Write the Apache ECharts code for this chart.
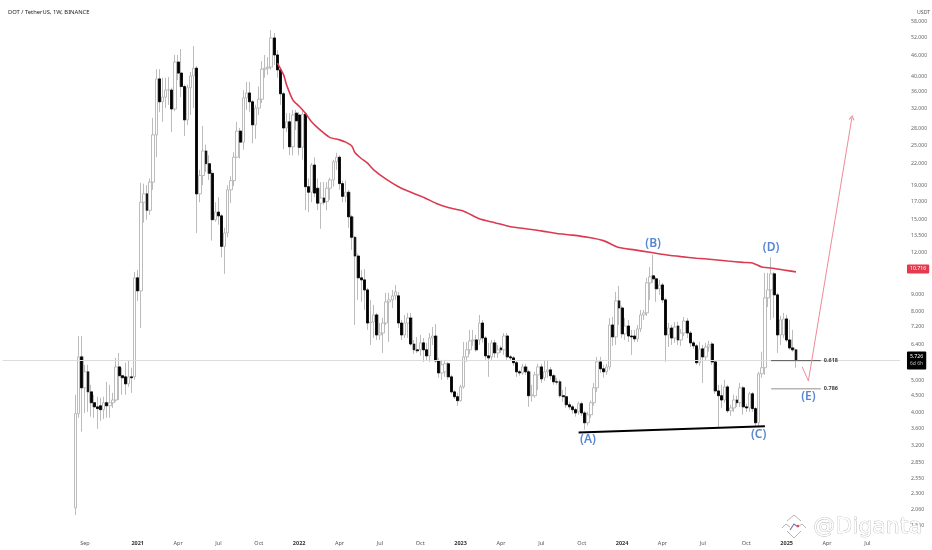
<!DOCTYPE html>
<html><head><meta charset="utf-8">
<style>html,body{margin:0;padding:0;background:#fff}#c{width:932px;height:550px}</style>
<script src="https://cdn.jsdelivr.net/npm/echarts@6/dist/echarts.min.js"></script>
</head><body><div id="c"></div>
<script>
const opens=[2.09,3.98,5.87,4.75,5.30,4.62,4.29,4.17,4.20,4.09,
4.29,4.20,4.29,4.37,5.48,5.16,5.12,4.88,5.12,5.12,
10.08,9.22,16.9,17.9,16.0,19.4,26.8,39.3,33.6,34.7,
36.4,36.4,32.0,44.1,40.9,37.3,29.7,37.0,40.1,42.3,
17.9,20.3,24.0,22.0,20.6,15.0,15.8,15.4,12.5,13.7,
18.4,19.6,23.0,27.5,25.5,34.5,35.7,33.6,28.7,32.2,
34.2,42.0,42.3,42.6,52.0,46.3,41.8,35.5,28.1,29.3,
24.7,31.1,30.7,24.6,30.9,18.8,18.1,21.8,18.6,16.8,
17.4,17.0,18.6,19.7,22.3,23.0,19.2,17.6,18.1,15.3,
13.3,11.7,10.08,9.94,9.28,7.40,7.45,7.82,6.82,6.91,
7.40,8.55,8.67,8.91,8.91,7.40,6.82,7.40,7.66,6.41,
6.16,6.16,6.46,6.16,5.91,6.68,6.77,5.71,5.26,5.30,
5.60,5.12,4.62,4.47,4.35,4.78,5.87,6.16,6.55,6.59,
6.59,7.40,6.68,5.91,5.87,6.46,6.03,6.24,6.16,6.77,
5.87,5.83,5.64,5.30,5.26,5.48,5.30,4.50,4.50,5.19,
5.48,5.09,5.30,5.37,5.16,4.95,4.95,4.50,4.47,4.23,
4.17,4.09,4.03,4.26,4.00,3.74,3.95,4.29,4.75,5.67,
5.41,5.30,5.48,7.30,6.73,8.61,8.20,6.87,7.25,6.77,
6.77,6.64,7.11,7.82,7.93,9.74,10.22,10.01,9.35,9.60,
8.67,6.82,7.15,6.68,7.25,6.59,6.91,7.50,6.91,6.46,
6.33,5.64,6.20,5.87,6.28,6.41,5.67,4.65,4.50,4.37,
4.78,4.06,4.14,4.37,4.29,4.75,4.17,4.14,4.56,4.12,
3.74,5.23,5.45,8.79,9.28,10.36,8.97,6.82,6.82,7.61,
6.59,6.24,6.16];
const closes=[3.98,5.87,4.75,5.30,4.62,4.29,4.17,4.12,4.09,4.29,
4.20,4.29,4.37,5.48,5.16,5.09,4.88,5.12,5.09,10.08,
9.22,16.9,17.9,16.0,19.4,26.8,39.3,33.6,34.7,36.4,
36.5,32.0,44.1,40.9,37.3,29.7,37.0,40.1,42.3,17.9,
20.3,24.0,22.0,20.6,15.0,15.8,15.4,12.5,13.7,18.4,
19.6,23.0,27.5,25.5,34.5,35.7,33.6,28.7,32.2,34.2,
42.0,42.3,42.6,52.0,46.3,41.8,35.5,28.1,29.3,24.7,
30.7,29.5,24.6,30.9,18.8,18.1,21.8,18.0,16.8,17.4,
16.9,18.6,19.7,22.3,23.0,19.2,17.6,18.1,15.3,13.3,
11.7,10.08,9.94,9.28,7.40,7.45,7.82,6.82,6.91,7.40,
8.55,8.67,8.91,9.16,7.40,6.82,7.40,7.66,6.41,6.16,
6.12,6.46,6.16,5.91,6.68,6.77,5.71,5.26,5.56,5.60,
5.12,4.62,4.47,4.35,4.78,5.87,6.16,6.55,6.59,6.16,
7.40,6.68,5.91,5.83,6.46,6.03,6.16,6.16,6.77,5.87,
5.83,5.64,5.30,5.26,5.48,5.30,4.50,4.53,5.19,5.48,
5.05,5.30,5.37,5.16,4.95,4.94,4.50,4.47,4.23,4.17,
4.09,4.00,4.26,4.00,3.74,3.95,4.29,4.75,5.67,5.41,
5.30,5.48,7.30,6.73,8.61,8.20,6.87,7.25,6.77,6.73,
6.64,7.11,7.82,7.93,9.74,10.15,10.01,9.35,9.60,8.67,
6.82,7.15,6.68,7.20,6.59,6.91,7.50,6.91,6.46,6.33,
5.64,6.20,5.87,6.28,6.37,5.67,4.65,4.50,4.37,4.78,
4.06,4.14,4.37,4.29,4.75,4.17,4.14,4.56,4.12,3.74,
5.23,5.45,8.79,9.28,10.36,8.97,6.82,7.56,7.61,6.59,
6.24,6.16,5.73];
const highs=[4.53,6.77,6.77,5.56,5.56,4.85,4.53,4.47,4.44,4.47,
4.95,4.85,4.59,5.83,6.03,5.45,5.64,5.71,5.45,10.5,
10.64,19.3,19.2,19.0,19.9,30.1,42.0,42.0,39.6,39.6,
39.8,37.0,46.3,46.3,48.2,37.8,37.8,41.2,49.2,42.9,
21.1,28.5,25.1,23.3,21.1,16.9,17.5,15.6,14.2,19.0,
20.2,23.8,29.3,28.1,36.4,38.5,38.5,34.0,32.9,37.3,
44.4,46.3,45.6,54.9,53.8,47.9,42.3,36.0,31.1,31.1,
31.8,31.8,31.3,31.8,31.3,19.9,22.1,23.0,19.9,19.4,
19.4,19.4,20.0,22.6,23.7,23.3,19.6,19.6,18.4,15.5,
13.4,11.9,10.64,10.7,9.41,8.67,8.38,7.93,7.40,7.66,
9.10,9.10,9.28,9.60,9.16,7.56,7.82,7.93,7.93,6.59,
6.73,6.82,6.68,6.46,6.91,7.20,7.35,5.83,5.75,5.75,
5.67,5.19,4.68,4.59,4.85,6.50,6.50,7.06,7.06,6.82,
7.82,7.56,6.77,6.46,6.59,6.59,6.37,6.33,6.91,6.91,
5.95,5.91,5.71,5.37,5.60,5.60,5.37,4.85,5.30,5.60,
5.60,5.71,5.71,5.48,5.23,5.09,5.02,4.68,4.78,4.32,
4.23,4.14,4.32,4.32,4.06,4.03,4.35,4.91,5.87,5.87,
5.56,5.60,7.66,7.71,9.16,9.54,8.32,7.66,7.56,7.06,
7.06,7.30,8.09,8.09,10.08,10.85,11.8,10.15,9.94,9.74,
8.79,7.40,7.30,7.45,7.45,7.11,7.71,7.66,7.01,6.55,
6.41,6.50,6.37,6.46,6.55,6.50,5.75,4.85,4.85,5.02,
4.85,4.23,4.53,4.50,4.91,4.81,4.26,4.62,4.62,4.17,
5.30,6.08,10.43,10.43,11.6,10.5,9.10,7.77,7.93,7.82,
7.56,7.06,6.20];
const lows=[1.99,3.87,3.52,4.00,4.03,3.90,3.87,3.59,3.79,3.84,
3.87,3.87,4.14,4.32,4.37,4.53,4.53,4.78,4.59,5.02,
8.61,7.15,14.7,15.0,15.5,18.4,23.0,31.3,29.3,32.2,
32.9,27.3,31.5,39.0,34.7,26.6,28.7,30.7,32.2,13.7,
16.9,19.0,20.8,19.7,13.0,14.8,14.5,11.6,10.36,13.3,
16.8,18.9,22.9,22.8,24.2,31.8,31.3,25.3,26.1,30.7,
33.3,39.6,40.4,41.8,43.2,39.6,32.9,24.3,27.3,23.3,
23.3,27.7,23.3,22.6,16.0,15.8,16.9,17.5,16.0,14.1,
16.6,16.0,17.2,18.8,21.1,18.4,16.9,16.9,14.2,12.2,
7.30,8.67,8.55,8.09,7.06,6.37,6.68,6.59,6.59,6.03,
7.30,6.50,8.20,8.67,7.15,6.59,6.68,6.68,6.33,5.99,
6.03,5.91,5.67,5.75,5.67,6.37,5.64,5.09,5.02,5.12,
5.02,4.56,4.40,4.20,4.32,4.72,5.67,5.99,6.33,6.08,
6.37,6.46,5.75,5.12,5.75,5.83,5.83,6.03,5.95,5.75,
5.71,5.52,5.12,5.16,5.19,5.19,4.17,4.32,4.44,4.68,
4.91,4.98,5.09,5.02,4.85,4.85,4.44,4.32,4.14,4.09,
3.98,3.90,3.95,3.92,3.57,3.67,3.87,4.20,4.62,5.26,
5.09,5.19,5.37,6.33,6.37,7.30,6.68,6.59,6.50,5.95,
6.50,6.50,6.96,7.56,7.77,8.67,9.74,8.55,8.97,8.49,
5.67,6.28,6.37,6.46,6.37,6.33,6.77,6.68,6.28,6.20,
5.56,5.52,4.91,5.75,6.08,5.56,4.56,3.62,4.14,4.29,
4.00,3.92,4.03,4.17,4.17,3.95,4.03,4.03,4.03,3.64,
3.64,5.09,5.19,8.26,7.56,7.66,6.03,6.37,6.68,6.50,
6.16,6.08,5.45];

// 200-week average, read at the candle numbers in maWeeks
const maWeeks=[65,67,68,70,72,74,76,78,80,82,85,87,89,90,92,94,96,100,104,108,112,116,120,125,130,135,140,145,150,155,160,165,170,175,180,185,190,195,200,205,210,215,218,221,224,228,232];
const maValues=[43.8,40.4,37.6,34.0,32.6,31.1,29.3,28.1,27.1,26.3,25.9,25.5,24.8,23.7,22.8,22.1,21.1,19.8,18.8,18.1,17.5,16.8,16.3,15.9,15.1,14.7,14.3,14.1,13.9,13.65,13.5,13.3,13.0,12.4,12.2,12.0,11.8,11.65,11.53,11.43,11.31,11.2,11.16,10.85,10.78,10.64,10.5];

const priceTicks=['58.000','52.000','46.000','40.000','36.000','32.000','28.000','25.000','22.000','19.000','17.000','15.000','13.500','12.000','9.000','8.000','7.200','6.400','5.000','4.500','4.000','3.600','3.200','2.850','2.550','2.300','2.060','1.850'];
const timeTickDates=['2020-09-07','2021-01-04','2021-04-05','2021-07-05','2021-10-04','2022-01-03','2022-04-04','2022-07-04','2022-10-03','2023-01-02','2023-04-03','2023-07-03','2023-10-02','2024-01-01','2024-04-01','2024-07-01','2024-10-07','2025-01-06','2025-04-07','2025-07-07'];
const timeTickLabels=['Sep','2021','Apr','Jul','Oct','2022','Apr','Jul','Oct','2023','Apr','Jul','Oct','2024','Apr','Jul','Oct','2025','Apr','Jul'];

const lastPrice=5.726, maLast=10.716;
const fib618=5.72, fib786=4.72;
const supportWeeks=[162,222], supportValues=[3.50,3.65];
const pathWeeks=[234,236,250], pathValues=[5.48,4.98,30.1];
const waveNames=['(A)','(B)','(C)','(D)','(E)'];
const waveWeeks=[165,186,220,224,236];
const waveValues=[3.33,12.7,3.44,12.37,4.47];

// weekly categories: 23 empty weeks before the first candle, then on into the future
const leadWeeks=23, totalWeeks=289;
const categories=[];
for(let k=0;k<totalWeeks;k++){
  const d=new Date(Date.UTC(2020,7,17)+(k-leadWeeks)*7*864e5);
  categories.push(d.toISOString().slice(0,10));
}
const cat=w=>categories[w+leadWeeks];

const candleData=categories.map((c,k)=>{const i=k-leadWeeks;return (i>=0&&i<opens.length)?[opens[i],closes[i],lows[i],highs[i]]:'-';});
const blackData=categories.map((c,k)=>{const i=k-leadWeeks;return (i>=0&&i<opens.length&&closes[i]<opens[i])?[opens[i],closes[i],closes[i],opens[i]]:'-';});

const font='"Noto Sans",sans-serif';
const chart=echarts.init(document.getElementById('c'),null,{renderer:'canvas'});
const flat=(weeks,vals)=>weeks.map((w,i)=>[cat(w),vals[i]]);
const fibLine=(v,color,w,label)=>({type:'line',z:6,silent:true,symbol:'none',
  data:[[cat(224),v],[cat(240),v]],lineStyle:{color:color,width:w},
  endLabel:{show:true,formatter:label,color:'#444',fontSize:5.5,fontWeight:'bold',fontFamily:font,distance:3}});

chart.setOption({
  animation:false,backgroundColor:'#fff',
  title:[
    {text:'DOT / TetherUS, 1W, BINANCE',left:3,top:4,textStyle:{fontSize:5.8,fontWeight:'normal',color:'#222',fontFamily:font}},
    {text:'USDT',left:912,top:5,textStyle:{fontSize:5.2,fontWeight:'normal',color:'#555',fontFamily:font}}
  ],
  grid:{left:2.63,width:897.35,top:0,height:530,containLabel:false},
  xAxis:{type:'category',data:categories,boundaryGap:true,
    axisLine:{show:false},axisTick:{show:false},splitLine:{show:false},
    axisLabel:{margin:10,fontSize:5.5,color:'#555',fontFamily:font,hideOverlap:false,
      interval:(i,v)=>timeTickDates.includes(v),
      formatter:v=>{const t=timeTickLabels[timeTickDates.indexOf(v)];return /^20/.test(t)?'{y|'+t+'}':t;},
      rich:{y:{fontSize:5.5,fontWeight:'bold',color:'#333',fontFamily:font}}}},
  yAxis:{type:'log',position:'right',min:1.796,max:67.42,
    axisLine:{show:false},axisTick:{show:false},splitLine:{show:false},minorTick:{show:false},minorSplitLine:{show:false},
    axisLabel:{margin:11,fontSize:5.2,color:'#666',fontFamily:font,align:'left',
      customValues:priceTicks.map(Number),
      formatter:v=>Number(v).toFixed(3)}},
  series:[
    {type:'candlestick',name:'wicks',z:2,barWidth:3,silent:true,data:candleData,
      itemStyle:{color:'#ffffff',color0:'#ffffff',borderColor:'#b4b4b4',borderColor0:'#b4b4b4',borderColorDoji:'#b4b4b4',borderWidth:0.9}},
    {type:'candlestick',name:'bodies',z:3,barWidth:2.4,silent:true,data:blackData,
      itemStyle:{color:'#000',color0:'#000',borderColor:'#000',borderColor0:'#000',borderColorDoji:'#000',borderWidth:0.8}},
    {type:'line',name:'MA',z:5,silent:true,symbol:'none',smooth:0.2,data:flat(maWeeks,maValues),
      lineStyle:{color:'#dc3a50',width:1.6},
      markLine:{silent:true,symbol:'none',animation:false,precision:3,data:[
        {yAxis:maLast,lineStyle:{color:'rgba(0,0,0,0)'},label:{show:true,position:'end',distance:7,formatter:'10.716',color:'#fff',fontSize:5.2,fontFamily:font,backgroundColor:'#e5394f',padding:[2,3,2,3],borderRadius:1}},
        {yAxis:lastPrice,lineStyle:{color:'#dcdcdc',width:1,type:'solid'},label:{show:true,position:'end',distance:7,formatter:'5.726\n{s|6d 6h}',lineHeight:7,color:'#fff',fontSize:5.2,fontFamily:font,backgroundColor:'#000',padding:[2,3,2,3],borderRadius:1,align:'left',
          rich:{s:{fontSize:5,color:'#bbb',lineHeight:7,fontFamily:font}}}}
      ]}},
    {type:'line',name:'support',z:6,silent:true,symbol:'none',data:flat(supportWeeks,supportValues),lineStyle:{color:'#000',width:2}},
    fibLine(fib618,'#555',1,'0.618'),
    fibLine(fib786,'#b5b5b5',1.5,'0.786'),
    {type:'line',name:'path',z:6,silent:true,showSymbol:true,showAllSymbol:true,symbol:'none',
      data:[{value:[cat(pathWeeks[0]),pathValues[0]],symbol:'none'},{value:[cat(pathWeeks[1]),pathValues[1]],symbol:'none'},
        {value:[cat(pathWeeks[2]),pathValues[2]],symbol:'path://M-5 5L0 0L5 5',symbolSize:[5,4],symbolRotate:-9,
          itemStyle:{color:'rgba(0,0,0,0)',borderColor:'#f08a9b',borderWidth:1,opacity:1}}],
      lineStyle:{color:'#f08a9b',width:1}},
    {type:'scatter',name:'waves',z:7,silent:true,symbolSize:0,
      data:waveNames.map((n,i)=>({name:n,value:[cat(waveWeeks[i]),waveValues[i]]})),
      label:{show:true,position:'inside',formatter:'{b}',color:'#2f68c8',fontSize:12,fontWeight:600,fontFamily:font}}
  ],
  graphic:[
    {type:'text',z:100,left:813,top:516,style:{text:'@Diganta',fontSize:22,fontFamily:'"DejaVu Sans",sans-serif',fill:'#fff',stroke:'#a8a8a8',lineWidth:0.7,opacity:0.95}},
    {type:'polyline',z:100,shape:{points:[[782,528],[786,524],[790,527]]},style:{fill:'none',stroke:'#b5b5b5',lineWidth:1}},
    {type:'polyline',z:100,shape:{points:[[806,528],[802,524],[798,527]]},style:{fill:'none',stroke:'#b5b5b5',lineWidth:1}},
    {type:'polyline',z:100,shape:{points:[[787,521],[794,515],[801,521]]},style:{fill:'none',stroke:'#b5b5b5',lineWidth:1}},
    {type:'polyline',z:100,shape:{points:[[787,531],[794,538],[801,531]]},style:{fill:'none',stroke:'#b5b5b5',lineWidth:1}},
    {type:'polyline',z:100,shape:{points:[[790,530],[794,524],[798,527]]},style:{fill:'none',stroke:'#8a6fa8',lineWidth:1.2}},
    {type:'circle',z:100,shape:{cx:798,cy:526,r:1.2},style:{fill:'#e0485e'}}
  ]
});
</script></body></html>
